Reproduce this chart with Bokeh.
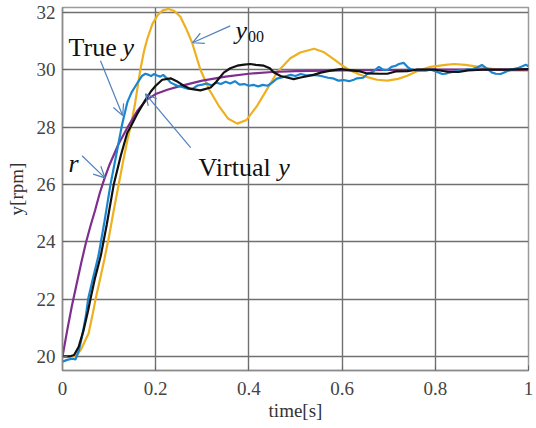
from bokeh.plotting import figure
from bokeh.models import Range1d, FixedTicker, Label, Arrow, OpenHead
from bokeh.embed import file_html
from bokeh.resources import INLINE

# ---------------- data ----------------
x_ticks = [0, 0.2, 0.4, 0.6, 0.8, 1]
x_tick_labels = ["0", "0.2", "0.4", "0.6", "0.8", "1"]
y_ticks = [20, 22, 24, 26, 28, 30, 32]

r_t = [0, 0.01, 0.02, 0.03, 0.04, 0.05, 0.06, 0.07, 0.08, 0.09, 0.1, 0.12, 0.14,
       0.16, 0.18, 0.2, 0.225, 0.25, 0.3, 0.35, 0.4, 0.45, 0.5, 0.6, 0.7, 0.8, 1.0]
r_y = [20, 20.9, 21.75, 22.5, 23.25, 23.95, 24.55, 25.1, 25.7, 26.2, 26.65, 27.4, 28.0,
       28.55, 28.95, 29.15, 29.3, 29.42, 29.62, 29.76, 29.86, 29.92, 29.95, 29.98, 29.99, 30.0, 30.0]

y00_t = [0, 0.02, 0.03, 0.04, 0.05, 0.056, 0.065, 0.071, 0.08, 0.09, 0.1, 0.11, 0.121,
         0.13, 0.14, 0.146, 0.155, 0.167, 0.175, 0.182, 0.193, 0.204, 0.215, 0.228, 0.24,
         0.253, 0.265, 0.278, 0.296, 0.315, 0.335, 0.355, 0.375, 0.395, 0.418, 0.44, 0.461,
         0.489, 0.51, 0.54, 0.56, 0.582, 0.6, 0.618, 0.636, 0.654, 0.675, 0.697, 0.72, 0.74,
         0.764, 0.79, 0.822, 0.84, 0.865, 0.9, 0.922, 0.95, 1.0]
y00_y = [20.0, 20.0, 20.03, 20.25, 20.6, 20.8, 21.5, 22.0, 22.65, 23.4, 24.2, 25.1, 26.03,
         26.8, 27.6, 28.0, 28.75, 30.0, 30.65, 31.08, 31.6, 31.9, 32.07, 32.12, 32.05,
         31.85, 31.45, 30.95, 30.0, 29.3, 28.75, 28.3, 28.12, 28.25, 28.75, 29.35, 29.92,
         30.4, 30.6, 30.73, 30.62, 30.37, 30.15, 29.97, 29.84, 29.74, 29.65, 29.62, 29.68, 29.79,
         29.97, 30.1, 30.17, 30.2, 30.17, 30.08, 30.03, 29.98, 29.97]

virt_t = [0, 0.015, 0.025, 0.035, 0.045, 0.055, 0.06, 0.07, 0.082, 0.095, 0.11, 0.125,
          0.139, 0.146, 0.16, 0.178, 0.19, 0.2, 0.214, 0.232, 0.245, 0.26, 0.275, 0.296,
          0.318, 0.33, 0.346, 0.36, 0.375, 0.39, 0.403, 0.415, 0.432, 0.445, 0.453, 0.468,
          0.482, 0.496, 0.511, 0.539, 0.554, 0.575, 0.597, 0.62, 0.639, 0.654, 0.68, 0.697,
          0.715, 0.74, 0.76, 0.8, 0.826, 0.85, 0.87, 0.9, 0.95, 1.0]
virt_y = [20.0, 20.0, 20.05, 20.35, 20.9, 21.6, 22.0, 22.75, 23.5, 24.6, 26.0, 27.0,
          27.8, 28.0, 28.45, 28.95, 29.25, 29.44, 29.65, 29.7, 29.6, 29.44, 29.33, 29.28,
          29.38, 29.58, 29.9, 30.05, 30.14, 30.18, 30.2, 30.17, 30.14, 30.05, 29.91, 29.78,
          29.73, 29.67, 29.73, 29.82, 29.9, 29.97, 30.02, 29.98, 29.94, 29.87, 29.86, 29.86,
          29.94, 29.95, 30.0, 30.0, 29.93, 29.92, 29.98, 30.0, 30.0, 30.02]

true_t = [0, 0.01, 0.02, 0.028, 0.035, 0.042, 0.05, 0.055, 0.065, 0.077, 0.09, 0.103,
          0.115, 0.128, 0.139, 0.148, 0.157, 0.165, 0.171, 0.178, 0.185, 0.19, 0.196, 0.203,
          0.21, 0.216, 0.224, 0.232, 0.245, 0.26, 0.27, 0.28, 0.29, 0.30, 0.31, 0.32, 0.33,
          0.34, 0.35, 0.36, 0.37, 0.38, 0.39, 0.40, 0.41, 0.42, 0.43, 0.44, 0.45, 0.46, 0.475,
          0.49, 0.50, 0.511, 0.525, 0.54, 0.555, 0.57, 0.58, 0.592, 0.603, 0.615, 0.625,
          0.632, 0.645, 0.654, 0.665, 0.679, 0.688, 0.697, 0.706, 0.715, 0.722, 0.732, 0.74,
          0.747, 0.756, 0.764, 0.779, 0.79, 0.80, 0.815, 0.822, 0.829, 0.84, 0.85, 0.865,
          0.88, 0.89, 0.90, 0.91, 0.922, 0.93, 0.94, 0.948, 0.957, 0.968, 0.979, 0.987,
          0.994, 1.0]
true_y = [19.82, 19.88, 19.92, 19.9, 20.2, 20.7, 21.4, 22.0, 22.7, 23.5, 24.7, 26.0,
          27.0, 28.1, 28.86, 29.2, 29.44, 29.65, 29.79, 29.86, 29.82, 29.78, 29.85, 29.8,
          29.76, 29.82, 29.7, 29.55, 29.45, 29.38, 29.33, 29.35, 29.45, 29.48, 29.52, 29.45, 29.55,
          29.5, 29.58, 29.52, 29.6, 29.48, 29.5, 29.44, 29.47, 29.42, 29.47, 29.44, 29.55, 29.69, 29.75,
          29.82, 29.78, 29.85, 29.8, 29.82, 29.78, 29.72, 29.7, 29.62, 29.64, 29.6, 29.65,
          29.7, 29.72, 29.85, 29.92, 30.1, 30.0, 29.99, 30.1, 30.14, 30.2, 30.24, 30.1,
          30.02, 29.98, 29.97, 29.97, 30.0, 29.95, 29.85, 29.86, 29.9, 29.93, 29.97, 30.0,
          30.02, 30.08, 30.17, 30.05, 29.9, 29.86, 29.85, 29.9, 29.97, 30.02, 30.07, 30.12,
          30.17, 30.12]

# annotation anchors (data units)
arrows = [  # x_start, y_start, x_end, y_end
    (0.0815, 30.31, 0.129, 28.40),   # True y
    (0.360, 31.53, 0.279, 30.94),    # y00
    (0.275, 27.28, 0.178, 29.16),    # Virtual y
    (0.042, 27.00, 0.091, 26.23),    # r
]

SERIF = "Liberation Serif"

p = figure(width=536, height=428, output_backend="svg", toolbar_location=None,
           x_range=Range1d(0, 1), y_range=Range1d(19.51, 32.17),
           min_border_left=62, min_border_right=8, min_border_top=7, min_border_bottom=58)

p.background_fill_color = "white"
p.border_fill_color = "white"
p.outline_line_color = "#9a9a9a"
p.outline_line_width = 1.5

for ax in (p.xaxis, p.yaxis):
    ax.axis_line_color = "#8a8a8a"
    ax.axis_line_width = 1.5
    ax.major_tick_in = 5
    ax.major_tick_out = 0
    ax.major_tick_line_color = "#666666"
    ax.minor_tick_line_color = None
    ax.major_label_text_font = SERIF
    ax.major_label_text_font_size = "19px"
    ax.major_label_text_color = "#444444"
    ax.axis_label_text_font = SERIF
    ax.axis_label_text_font_size = "19px"
    ax.axis_label_text_font_style = "normal"
    ax.axis_label_text_color = "#333333"

p.xaxis.ticker = FixedTicker(ticks=x_ticks)
p.xaxis.major_label_overrides = {t: s for t, s in zip(x_ticks, x_tick_labels)}
p.yaxis.ticker = FixedTicker(ticks=y_ticks)
p.xaxis.axis_label = "time[s]"
p.yaxis.axis_label = "y[rpm]"
p.xaxis.major_label_standoff = 11
p.xaxis.axis_label_standoff = 2
p.yaxis.major_label_standoff = 7
p.yaxis.axis_label_standoff = 7

p.grid.grid_line_color = "#707070"
p.grid.grid_line_width = 1.4
p.grid.grid_line_alpha = 1.0

LW = 2.2
p.line(y00_t, y00_y, line_color="#EDB120", line_width=LW)
p.line(r_t, r_y, line_color="#7E2F8E", line_width=LW)
p.line(true_t, true_y, line_color="#1a86d0", line_width=LW)
p.line(virt_t, virt_y, line_color="#111111", line_width=LW)

ARC = "#4f81bd"
for xs, ys, xe, ye in arrows:
    p.add_layout(Arrow(x_start=xs, y_start=ys, x_end=xe, y_end=ye,
                       line_color=ARC, line_width=1.2,
                       end=OpenHead(size=11, line_color=ARC, line_width=1.2)))

def lab(x, y, text, size="26px", style="normal"):
    p.add_layout(Label(x=x, y=y, text=text, text_font=SERIF, text_font_size=size,
                       text_font_style=style, text_color="#111111",
                       text_baseline="alphabetic", text_align="left"))

lab(0.013, 30.78, "True")
lab(0.129, 30.78, "y", style="italic")
lab(0.371, 31.38, "y", style="italic")
lab(0.398, 31.16, "00", size="16px")
lab(0.292, 26.59, "Virtual")
lab(0.463, 26.59, "y", style="italic")
lab(0.013, 26.72, "r", style="italic")

open("out.html", "w").write(file_html(p, INLINE))
